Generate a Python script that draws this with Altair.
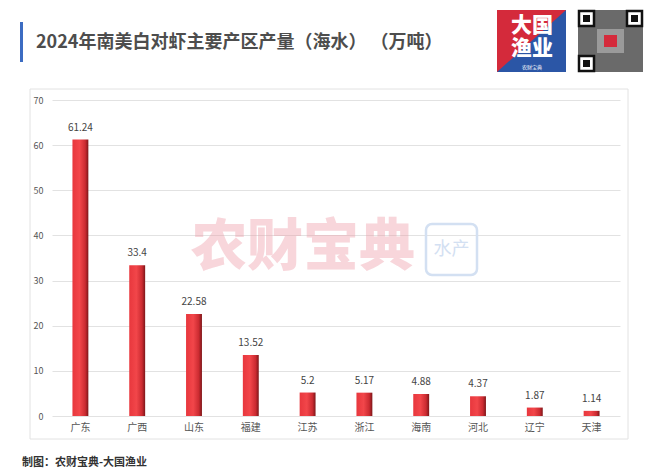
import altair as alt
import pandas as pd

provinces = ["广东", "广西", "山东", "福建", "江苏", "浙江", "海南", "河北", "辽宁", "天津"]
values = [61.24, 33.4, 22.58, 13.52, 5.2, 5.17, 4.88, 4.37, 1.87, 1.14]
labels = ["61.24", "33.4", "22.58", "13.52", "5.2", "5.17", "4.88", "4.37", "1.87", "1.14"]
y_ticks = [0, 10, 20, 30, 40, 50, 60, 70]

title_text = "2024年南美白对虾主要产区产量（海水） （万吨）"
footer_text = "制图：农财宝典-大国渔业"
watermark_text = "农财宝典"
logo_lines = ["大国", "渔业"]

df = pd.DataFrame({"province": provinces, "value": values, "label": labels})
one = alt.Data(values=[{}])
FONT = "Noto Sans CJK SC"

x_enc = alt.X("province:N", sort=provinces, title=None,
              scale=alt.Scale(paddingInner=0.72, paddingOuter=0.36),
              axis=alt.Axis(labelAngle=0, domain=False, ticks=False, labelPadding=6,
                            labelColor="#555", labelFontSize=10, labelFont=FONT))
y_enc = alt.Y("value:Q", title=None,
              scale=alt.Scale(domain=[0, 70], nice=False),
              axis=alt.Axis(values=y_ticks, domain=False, ticks=False, labelPadding=9,
                            labelColor="#555", labelFontSize=9, labelFont=FONT,
                            gridColor="#e2e2e2", gridWidth=1))

frame = alt.Chart(one).mark_rect(fill="transparent", stroke="#e2e2e2", strokeWidth=1).encode(
    x=alt.value(-22), x2=alt.value(576), y=alt.value(-11), y2=alt.value(339))

watermark = alt.Chart(one).mark_text(text=watermark_text, font=FONT, fontSize=56, fontWeight=900,
                                     color="#ee9aa6", opacity=0.4, align="center", baseline="middle").encode(
    x=alt.value(251), y=alt.value(148))
wm_icon = alt.Chart(one).mark_rect(fill="transparent", stroke="#d3e0f2", strokeWidth=2.5, cornerRadius=6).encode(
    x=alt.value(374), x2=alt.value(425), y=alt.value(124), y2=alt.value(175))
wm_icon_text = alt.Chart(one).mark_text(text="水产", font=FONT, fontSize=18, color="#d3e0f2",
                                        align="center", baseline="middle").encode(
    x=alt.value(399.5), y=alt.value(149.5))

gradient = alt.Gradient(gradient="linear", x1=0, x2=1, y1=0, y2=0,
                        stops=[alt.GradientStop(color="#e8373d", offset=0),
                               alt.GradientStop(color="#f2464a", offset=0.45),
                               alt.GradientStop(color="#cc2b31", offset=0.8),
                               alt.GradientStop(color="#7d1619", offset=1)])

bars = alt.Chart(df).mark_bar(color=gradient).encode(x=x_enc, y=y_enc)
bar_text = alt.Chart(df).mark_text(dy=-7, fontSize=10, color="#444", font=FONT, baseline="bottom").encode(
    x=alt.X("province:N", sort=provinces), y="value:Q", text="label:N")

title_bar = alt.Chart(one).mark_rect(fill="#3c6cc2").encode(
    x=alt.value(-32), x2=alt.value(-29), y=alt.value(-78), y2=alt.value(-38))
title = alt.Chart(one).mark_text(text=title_text, font=FONT, fontSize=18, fontWeight="bold",
                                 color="#4d4d4d", align="left", baseline="middle").encode(
    x=alt.value(-16), y=alt.value(-57))
footer = alt.Chart(one).mark_text(text=footer_text, font=FONT, fontSize=11, fontWeight="bold",
                                  color="#333", align="left", baseline="middle").encode(
    x=alt.value(-30), y=alt.value(363))

# logo
logo_red = alt.Chart(one).mark_rect(fill="#d42a3b").encode(
    x=alt.value(445), x2=alt.value(514), y=alt.value(-90), y2=alt.value(-28))
logo_blue = alt.Chart(one).mark_point(shape="M1,-0.9L1,0.9L-1,0.9Z", filled=True, fill="#2b56a6",
                                      opacity=1, size=4761, strokeWidth=0).encode(
    x=alt.value(479.5), y=alt.value(-59))
logo_t = alt.Chart(one).mark_text(text=logo_lines, font=FONT, fontSize=21, fontWeight=900, color="white",
                                  lineHeight=23, align="center", baseline="top").encode(
    x=alt.value(480), y=alt.value(-85))
logo_t3 = alt.Chart(one).mark_text(text="农财宝典", font=FONT, fontSize=5, color="white",
                                   align="center", baseline="middle").encode(
    x=alt.value(480), y=alt.value(-33))

# qr-like block
qr_bg = alt.Chart(one).mark_rect(fill="#6a6a6a").encode(
    x=alt.value(526), x2=alt.value(591), y=alt.value(-90), y2=alt.value(-28))
qr_inner = alt.Chart(one).mark_rect(fill="#9a9a9a").encode(
    x=alt.value(545), x2=alt.value(572), y=alt.value(-71), y2=alt.value(-47))
qr_center = alt.Chart(one).mark_rect(fill="#d42a3b").encode(
    x=alt.value(552), x2=alt.value(565), y=alt.value(-65), y2=alt.value(-53))
finders = []
for fx, fy in [(526, -90), (574, -90), (526, -45)]:
    finders.append(alt.Chart(one).mark_rect(fill="white", stroke="#111", strokeWidth=2.5).encode(
        x=alt.value(fx + 1), x2=alt.value(fx + 16), y=alt.value(fy + 1), y2=alt.value(fy + 16)))
    finders.append(alt.Chart(one).mark_rect(fill="#111").encode(
        x=alt.value(fx + 5), x2=alt.value(fx + 12), y=alt.value(fy + 5), y2=alt.value(fy + 12)))

chart = alt.layer(
    frame, watermark, wm_icon, wm_icon_text, bars, bar_text,
    title_bar, title, footer, logo_red, logo_blue, logo_t, logo_t3,
    qr_bg, qr_inner, qr_center, *finders
).properties(
    width=568, height=316,
    autosize=alt.AutoSizeParams(type="none"),
    padding={"left": 44, "top": 92, "right": 32, "bottom": 55},
    background="white",
).configure_view(stroke=None)

chart.save("out.html", embed_options={"renderer": "svg", "actions": False})
